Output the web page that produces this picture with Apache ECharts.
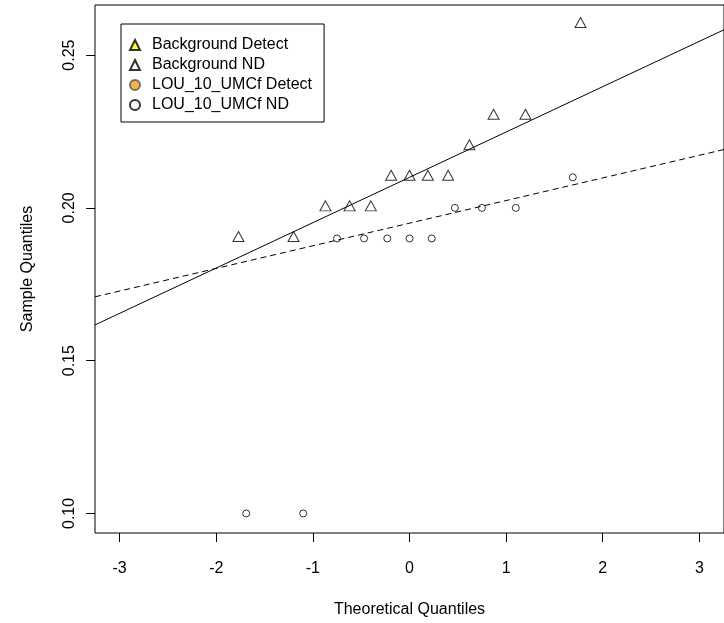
<!DOCTYPE html>
<html>
<head>
<meta charset="utf-8">
<script src="https://cdn.jsdelivr.net/npm/echarts@6/dist/echarts.min.js"></script>
<style>
html,body{margin:0;padding:0;background:#fff;}
#chart{width:724px;height:623px;}
</style>
</head>
<body>
<div id="chart"></div>
<script>
// Background ND (triangles)
var bgX = [-1.77, -1.20, -0.87, -0.62, -0.40, -0.19, 0.00, 0.19, 0.40, 0.62, 0.87, 1.20, 1.77];
var bgY = [0.19, 0.19, 0.20, 0.20, 0.20, 0.21, 0.21, 0.21, 0.21, 0.22, 0.23, 0.23, 0.26];
// LOU_10_UMCf ND (circles)
var louX = [-1.69, -1.10, -0.75, -0.47, -0.23, 0.00, 0.23, 0.47, 0.75, 1.10, 1.69];
var louY = [0.10, 0.10, 0.19, 0.19, 0.19, 0.19, 0.19, 0.20, 0.20, 0.20, 0.21];
// Reference lines (endpoints read at the plot edges)
var lineX = [-3.255, 3.255];
var bgLineY = [0.1617, 0.2583];
var louLineY = [0.1709, 0.2191];
// Axes
var xTicks = [-3, -2, -1, 0, 1, 2, 3];
var yTicks = [0.10, 0.15, 0.20, 0.25];
var xRange = [-3.255, 3.255];
var yRange = [0.0936, 0.2664];
var legendNames = ['Background Detect', 'Background ND', 'LOU_10_UMCf Detect', 'LOU_10_UMCf ND'];

function pairs(xs, ys) { return xs.map(function (x, i) { return [x, ys[i]]; }); }

var FONT = '"Liberation Sans", Arial, sans-serif';
var chart = echarts.init(document.getElementById('chart'));
chart.setOption({
  animation: false,
  backgroundColor: '#fff',
  textStyle: { fontFamily: FONT, color: '#000' },
  grid: { left: 95, top: 5, width: 632, height: 530, show: true, borderColor: '#000', borderWidth: 1, containLabel: false },
  legend: {
    orient: 'vertical', left: 121, top: 24,
    data: legendNames,
    itemWidth: 10, itemHeight: 10, itemGap: 0,
    symbolKeepAspect: true,
    padding: [11, 12, 7, 8],
    borderColor: '#000', borderWidth: 1,
    textStyle: { fontFamily: FONT, fontSize: 16, color: '#000', lineHeight: 20, padding: [0, 0, 0, 7] },
    selectedMode: false
  },
  xAxis: {
    type: 'value', min: xRange[0], max: xRange[1],
    name: 'Theoretical Quantiles', nameLocation: 'middle', nameGap: 69,
    nameTextStyle: { fontFamily: FONT, fontSize: 16, color: '#000' },
    axisLine: { show: false, onZero: false },
    axisTick: { show: true, length: 9, inside: false, customValues: xTicks, lineStyle: { color: '#000' } },
    axisLabel: { customValues: xTicks, margin: 28, fontFamily: FONT, fontSize: 16, color: '#000' },
    splitLine: { show: false }
  },
  yAxis: {
    type: 'value', min: yRange[0], max: yRange[1],
    name: 'Sample Quantiles', nameLocation: 'middle', nameGap: 59, nameRotate: 90,
    nameTextStyle: { fontFamily: FONT, fontSize: 16, color: '#000' },
    axisLine: { show: false, onZero: false },
    axisTick: { show: true, length: 9, inside: false, customValues: yTicks, lineStyle: { color: '#000' } },
    axisLabel: { customValues: yTicks, rotate: 90, margin: 17, fontFamily: FONT, fontSize: 16, color: '#000',
      formatter: function (v) { return v.toFixed(2); } },
    splitLine: { show: false }
  },
  series: [
    { name: 'bgLine', type: 'line', data: pairs(lineX, bgLineY), symbol: 'none', silent: true,
      lineStyle: { color: '#000', width: 1 }, z: 1 },
    { name: 'louLine', type: 'line', data: pairs(lineX, louLineY), symbol: 'none', silent: true,
      lineStyle: { color: '#000', width: 1, type: [6, 4] }, z: 1 },
    { name: 'Background Detect', type: 'scatter', data: [], symbol: 'triangle', symbolSize: [11, 10],
      symbolKeepAspect: true,
      itemStyle: { color: '#FFFF00', borderColor: '#000', borderWidth: 1 } },
    { name: 'Background ND', type: 'scatter', data: pairs(bgX, bgY), symbol: 'triangle', symbolSize: [11, 10],
      symbolOffset: [0, -2], symbolKeepAspect: true,
      itemStyle: { color: 'rgba(255,255,255,0)', borderColor: '#000', borderWidth: 1 }, z: 3 },
    { name: 'LOU_10_UMCf Detect', type: 'scatter', data: [], symbol: 'circle', symbolSize: 7,
      itemStyle: { color: '#F5A020', borderColor: '#555', borderWidth: 1 } },
    { name: 'LOU_10_UMCf ND', type: 'scatter', data: pairs(louX, louY), symbol: 'circle', symbolSize: 7,
      itemStyle: { color: 'rgba(255,255,255,0)', borderColor: '#000', borderWidth: 1 }, z: 3 }
  ]
});
</script>
</body>
</html>
